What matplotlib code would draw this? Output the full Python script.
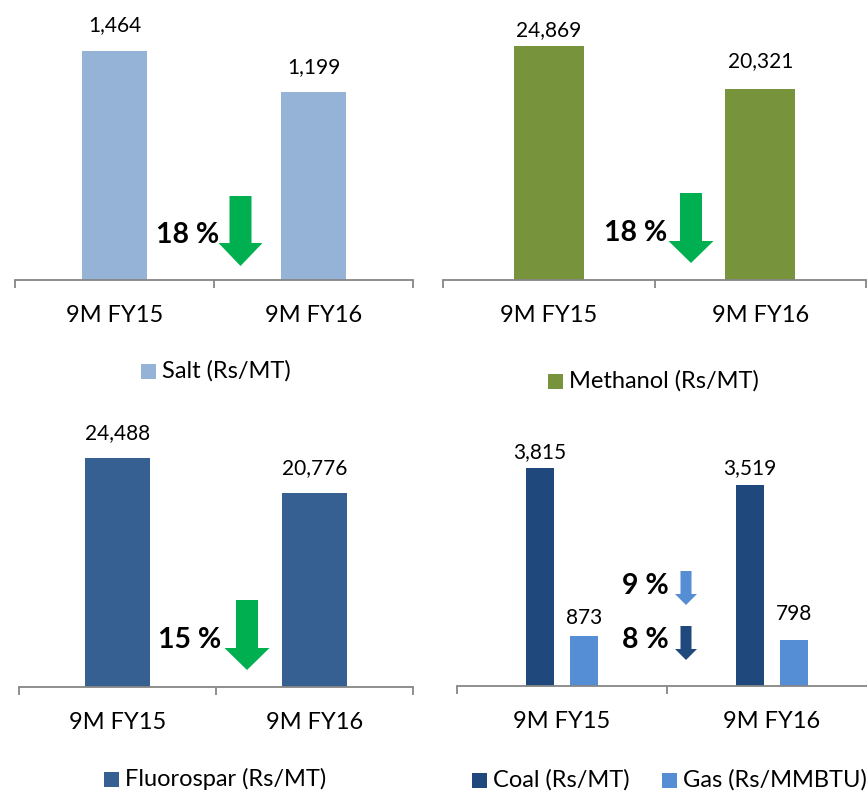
import matplotlib
matplotlib.use("Agg")
import matplotlib.pyplot as plt
from matplotlib.patches import Polygon, Rectangle

plt.rcParams['font.family'] = ['Lato', 'DejaVu Sans']

# ---- data -------------------------------------------------------------
periods = ["9M FY15", "9M FY16"]

salt = [1464, 1199]
methanol = [24869, 20321]
fluorospar = [24488, 20776]
coal = [3815, 3519]
gas = [873, 798]

salt_label = "Salt (Rs/MT)"
methanol_label = "Methanol (Rs/MT)"
fluorospar_label = "Fluorospar (Rs/MT)"
coal_label = "Coal (Rs/MT)"
gas_label = "Gas (Rs/MMBTU)"

# ---- styling ----------------------------------------------------------
W, H, DPI = 867, 795, 100
C_SALT = "#95B3D7"
C_METH = "#77933C"
C_FLUO = "#376092"
C_COAL = "#1F497D"
C_GAS = "#558ED5"
C_GREEN = "#00B050"
C_AXIS = "#868686"

FS_VAL = 15
FS_CAT = 17
FS_PCT = 20.5

fig = plt.figure(figsize=(W / DPI, H / DPI), dpi=DPI)
fig.patch.set_facecolor("white")


def panel(left, right, base, top, ymax):
    ax = fig.add_axes([left / W, 1 - base / H, (right - left) / W, (base - top) / H])
    ax.set_xlim(-0.5, 1.5)
    ax.set_ylim(0, ymax)
    for s in ("left", "right", "top"):
        ax.spines[s].set_visible(False)
    ax.spines["bottom"].set_color(C_AXIS)
    ax.spines["bottom"].set_linewidth(1.3)
    ax.set_yticks([])
    ax.set_xticks([-0.5, 0.5, 1.5])
    ax.set_xticks([0, 1], minor=True)
    ax.set_xticklabels(periods, minor=True, fontsize=FS_CAT)
    ax.tick_params(axis="x", which="major", direction="out", length=6,
                   width=1.3, color=C_AXIS, labelbottom=False)
    ax.tick_params(axis="x", which="minor", length=0, pad=18)
    ax.patch.set_alpha(0)
    return ax


def value_labels(ax, xs, vals, offsets):
    for x, v, off in zip(xs, vals, offsets):
        ax.annotate(f"{v:,}", xy=(x, v), xytext=(0, off), textcoords="offset pixels",
                    ha="center", va="center", fontsize=FS_VAL, color="black")


def pct(series):
    return round(100 * (1 - series[1] / series[0]))


# Salt
ax1 = panel(15, 413, 280, 10, 1726)
ax1.bar([0, 1], salt, width=0.33, color=C_SALT)
value_labels(ax1, [0, 1], salt, [26, 25])

# Methanol
ax2 = panel(443, 866, 280, 10, 28658)
ax2.bar([0, 1], methanol, width=0.33, color=C_METH)
value_labels(ax2, [0, 1], methanol, [16, 27])

# Fluorospar
ax3 = panel(19, 413, 687, 417, 28873)
ax3.bar([0, 1], fluorospar, width=0.33, color=C_FLUO)
value_labels(ax3, [0, 1], fluorospar, [25, 25])

# Coal and gas
ax4 = panel(457, 877, 686, 417, 4707)
off = 0.105
ax4.bar([0 - off, 1 - off], coal, width=0.13, color=C_COAL)
ax4.bar([0 + off, 1 + off], gas, width=0.13, color=C_GAS)
value_labels(ax4, [0 - off, 1 - off], coal, [16, 17])
value_labels(ax4, [0 + off, 1 + off], gas, [18, 26])

# ---- overlay in pixel space for arrows, change text and legends -------
ov = fig.add_axes([0, 0, 1, 1], zorder=10)
ov.set_xlim(0, W)
ov.set_ylim(H, 0)
ov.axis("off")
ov.patch.set_alpha(0)


def down_arrow(cx, sw, hw, top, htop, tip, color):
    pts = [(cx - sw, top), (cx + sw, top), (cx + sw, htop), (cx + hw, htop),
           (cx, tip), (cx - hw, htop), (cx - sw, htop)]
    ov.add_patch(Polygon(pts, closed=True, facecolor=color, edgecolor="none"))


def change_text(x_right, y, value):
    ov.text(x_right, y, f"{value} %", ha="right", va="center", fontsize=FS_PCT,
            fontweight="bold", color="black")


down_arrow(240.5, 11, 22, 196, 243, 266, C_GREEN)
change_text(219, 235, pct(salt))

down_arrow(691, 11, 22.5, 193, 241, 263, C_GREEN)
change_text(667, 233, pct(methanol))

down_arrow(247, 11, 22.5, 600, 648, 670, C_GREEN)
change_text(221, 640, pct(fluorospar))

down_arrow(686, 5.5, 11, 571, 594, 605, C_GAS)
change_text(669, 586, pct(gas))
down_arrow(686, 5.5, 11, 626, 649, 660, C_COAL)
change_text(669, 640, pct(coal))


def legend_item(x, y, color, text):
    ov.add_patch(Rectangle((x, y - 7.5), 15, 15, facecolor=color, edgecolor="none"))
    ov.text(x + 21, y, text, ha="left", va="center", fontsize=FS_CAT, color="black")


legend_item(141, 371, C_SALT, salt_label)
legend_item(548, 381, C_METH, methanol_label)
legend_item(104, 779, C_FLUO, fluorospar_label)
legend_item(472, 780, C_COAL, coal_label)
legend_item(662, 780, C_GAS, gas_label)

fig.savefig("out.png", dpi=DPI)
